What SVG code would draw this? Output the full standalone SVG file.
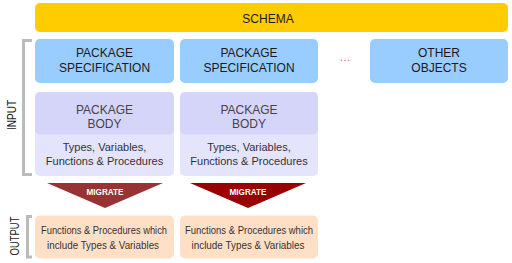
<svg xmlns="http://www.w3.org/2000/svg" width="512" height="263" viewBox="0 0 512 263">
  <style>
    text { font-family: "Liberation Sans", Arial, sans-serif; }
    .schema { fill: #FFCC00; }
    .spec { fill: #99CCFF; }
    .body-low { fill: #E4E4FC; }
    .body-head { fill: #D5D5FA; }
    .out { fill: #FFE0C6; }
    .t12 { font-size: 12px; fill: #1a1a1a; text-anchor: middle; }
    .thead { font-size: 12px; fill: #444; text-anchor: middle; }
    .t11 { font-size: 11px; fill: #333; text-anchor: middle; }
    .tout { font-size: 11.5px; fill: #333; text-anchor: middle; }
    .side { font-size: 12px; fill: #222; text-anchor: middle; }
    .mig { font-size: 8.5px; font-weight: bold; fill: #fff; text-anchor: middle; }
    .bracket { fill: none; stroke: #BBBBBB; stroke-width: 3; }
  </style>

  <!-- schema bar -->
  <g id="schema">
    <rect class="schema" x="35" y="3" width="473" height="29" rx="5"/>
    <text class="t12" x="268" y="23">SCHEMA</text>
  </g>

  <!-- package specifications -->
  <g id="spec1">
    <rect class="spec" x="35" y="39" width="139" height="44" rx="5"/>
    <text class="t12" x="104.5" y="57">PACKAGE</text>
    <text class="t12" x="104.5" y="72">SPECIFICATION</text>
  </g>
  <g id="spec2">
    <rect class="spec" x="180" y="39" width="138" height="44" rx="5"/>
    <text class="t12" x="249" y="57">PACKAGE</text>
    <text class="t12" x="249" y="72">SPECIFICATION</text>
  </g>
  <g id="ellipsis">
    <text x="345" y="61" font-size="11" fill="#D06060" text-anchor="middle" textLength="11">…</text>
  </g>
  <g id="other">
    <rect class="spec" x="370" y="39" width="138" height="44" rx="5"/>
    <text class="t12" x="439" y="57">OTHER</text>
    <text class="t12" x="439" y="72">OBJECTS</text>
  </g>

  <!-- package bodies -->
  <g id="body1">
    <rect class="body-low" x="35" y="92" width="139" height="84" rx="5"/>
    <rect class="body-head" x="35" y="92" width="139" height="42.5" rx="5"/>
    <text class="thead" x="104.5" y="114">PACKAGE</text>
    <text class="thead" x="104.5" y="127.5">BODY</text>
    <text class="t11" x="104.5" y="151">Types, Variables,</text>
    <text class="t11" x="104.5" y="164.5">Functions &amp; Procedures</text>
  </g>
  <g id="body2">
    <rect class="body-low" x="180" y="92" width="138" height="84" rx="5"/>
    <rect class="body-head" x="180" y="92" width="138" height="42.5" rx="5"/>
    <text class="thead" x="249" y="114">PACKAGE</text>
    <text class="thead" x="249" y="127.5">BODY</text>
    <text class="t11" x="249" y="151">Types, Variables,</text>
    <text class="t11" x="249" y="164.5">Functions &amp; Procedures</text>
  </g>

  <!-- migrate arrows -->
  <g id="connectors">
    <g id="migrate1">
      <polygon points="47,183 163,183 105,208" fill="#993333"/>
      <text class="mig" x="105" y="194.5" textLength="37" lengthAdjust="spacingAndGlyphs">MIGRATE</text>
    </g>
    <g id="migrate2">
      <polygon points="190,183 306,183 248,208" fill="#990000"/>
      <text class="mig" x="248" y="194.5" textLength="37" lengthAdjust="spacingAndGlyphs">MIGRATE</text>
    </g>
  </g>

  <!-- outputs -->
  <g id="out1">
    <rect class="out" x="35" y="215.5" width="139" height="43" rx="5"/>
    <text class="tout" x="104" y="234" textLength="126" lengthAdjust="spacingAndGlyphs">Functions &amp; Procedures which</text>
    <text class="tout" x="103" y="249" textLength="112" lengthAdjust="spacingAndGlyphs">include Types &amp; Variables</text>
  </g>
  <g id="out2">
    <rect class="out" x="180" y="215.5" width="138" height="43" rx="5"/>
    <text class="tout" x="249" y="234" textLength="128" lengthAdjust="spacingAndGlyphs">Functions &amp; Procedures which</text>
    <text class="tout" x="248" y="249" textLength="113" lengthAdjust="spacingAndGlyphs">include Types &amp; Variables</text>
  </g>

  <!-- side brackets and labels -->
  <g id="input-label">
    <path class="bracket" d="M32,40.5 H23.5 V174.5 H32"/>
    <text class="side" transform="translate(16,115) rotate(-90)" textLength="30" lengthAdjust="spacingAndGlyphs">INPUT</text>
  </g>
  <g id="output-label">
    <path class="bracket" d="M32,216.5 H27.5 V257 H32"/>
    <text class="side" transform="translate(19,236) rotate(-90)" textLength="39" lengthAdjust="spacingAndGlyphs">OUTPUT</text>
  </g>
</svg>
